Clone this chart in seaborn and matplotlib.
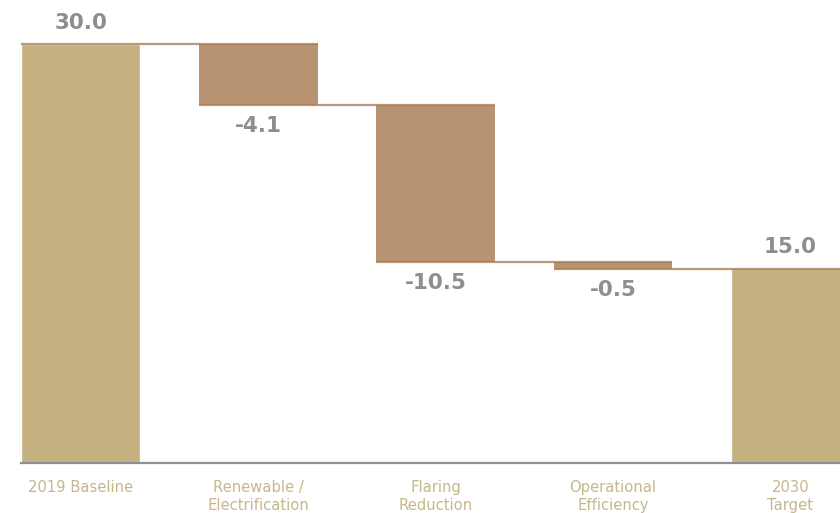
import matplotlib
matplotlib.use("Agg")
import matplotlib.pyplot as plt
import seaborn as sns
import numpy as np
import pandas as pd

categories = ["2019 Baseline", "Renewable /\nElectrification", "Flaring\nReduction",
              "Operational\nEfficiency", "2030\nTarget"]
values = [30.0, -4.1, -10.5, -0.5, 15.0]
kinds = ["total", "delta", "delta", "delta", "total"]
value_labels = ["30.0", "-4.1", "-10.5", "-0.5", "15.0"]

TOTAL_C = "#C5B17F"
DELTA_C = "#B89371"
LINE_C = "#A97E56"
TEXT_GRAY = "#8E8E92"
CAT_C = "#C8B68B"

sns.set_theme(style="white")
plt.rcParams["font.family"] = ["DejaVu Sans"]

# compute waterfall geometry
bottoms, heights, ends = [], [], []
level = 0.0
for v, k in zip(values, kinds):
    if k == "total":
        bottoms.append(0.0); heights.append(v); level = v
    else:
        new = level + v
        bottoms.append(new); heights.append(-v); level = new
    ends.append(level)

fig = plt.figure(figsize=(8.4, 5.13), dpi=100)
ax = fig.add_axes([0.0255, 0.0965, 0.9745, 0.873])

x = np.arange(len(categories))
width = 0.67
df = pd.DataFrame({"cat": categories,
                   "total": [h if k == "total" else 0 for h, k in zip(heights, kinds)]})
sns.barplot(data=df, x="cat", y="total", color=TOTAL_C, saturation=1, width=width, ax=ax)
for i, k in enumerate(kinds):
    if k == "delta":
        ax.bar(x[i], heights[i], bottom=bottoms[i], width=width, color=DELTA_C,
               linewidth=0, zorder=2)

# connectors
for i in range(len(categories) - 1):
    ax.plot([x[i] - width / 2, x[i + 1] + width / 2], [ends[i], ends[i]],
            color=LINE_C, lw=1.6, alpha=0.8, zorder=3, solid_capstyle="butt")

# value labels
for i, (lab, k) in enumerate(zip(value_labels, kinds)):
    if k == "total":
        ax.annotate(lab, (x[i], heights[i]), xytext=(0, 15), textcoords="offset points",
                    ha="center", va="center", fontsize=15.5, fontweight="bold",
                    color=TEXT_GRAY, annotation_clip=False)
    else:
        ax.annotate(lab, (x[i], bottoms[i]), xytext=(0, -15), textcoords="offset points",
                    ha="center", va="center", fontsize=15.5, fontweight="bold",
                    color=TEXT_GRAY, annotation_clip=False)

ax.set_xlim(-width / 2, 4.28)
ax.set_ylim(1.9, 31.9)
ax.set_yticks([])
ax.set_xticks(x)
ax.set_xticklabels(categories, fontsize=10.6, color=CAT_C, linespacing=1.25)
ax.tick_params(axis="x", length=0, pad=12)
ax.set_xlabel("")
ax.set_ylabel("")
for s in ["top", "right", "left"]:
    ax.spines[s].set_visible(False)
ax.spines["bottom"].set_color("#8F8F94")
ax.spines["bottom"].set_linewidth(1.6)
ax.spines["bottom"].set_zorder(4)

fig.savefig("out.png", dpi=100)
